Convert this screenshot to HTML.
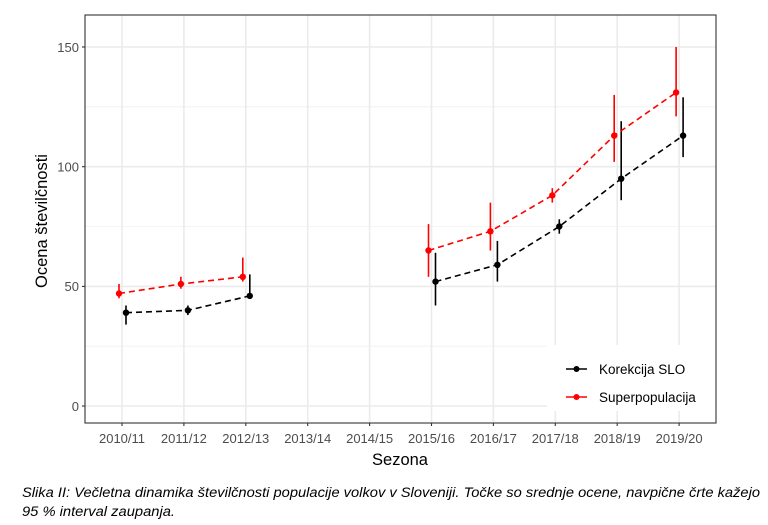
<!DOCTYPE html>
<html><head><meta charset="utf-8"><style>body{margin:0;background:#fff}svg{display:block}</style></head><body>
<svg width="768" height="525" viewBox="0 0 768 525" xmlns="http://www.w3.org/2000/svg" font-family="Liberation Sans, sans-serif">
<rect width="768" height="525" fill="#fff"/>
<g stroke="#f0f0f0" stroke-width="0.8">
<line x1="85" x2="716" y1="106.8" y2="106.8"/><line x1="85" x2="716" y1="226.5" y2="226.5"/><line x1="85" x2="716" y1="346.2" y2="346.2"/>
</g>
<g stroke="#ebebeb" stroke-width="1.6">
<line x1="85" x2="716" y1="47" y2="47"/><line x1="85" x2="716" y1="166.7" y2="166.7"/><line x1="85" x2="716" y1="286.4" y2="286.4"/><line x1="85" x2="716" y1="406" y2="406"/>
<line x1="122" x2="122" y1="15" y2="423"/><line x1="183.9" x2="183.9" y1="15" y2="423"/><line x1="245.8" x2="245.8" y1="15" y2="423"/><line x1="307.7" x2="307.7" y1="15" y2="423"/><line x1="369.6" x2="369.6" y1="15" y2="423"/><line x1="431.5" x2="431.5" y1="15" y2="423"/><line x1="493.4" x2="493.4" y1="15" y2="423"/><line x1="555.3" x2="555.3" y1="15" y2="423"/><line x1="617.2" x2="617.2" y1="15" y2="423"/><line x1="679.1" x2="679.1" y1="15" y2="423"/>
</g>
<!-- black series -->
<g stroke="#000" stroke-width="1.6" fill="none">
<polyline stroke-dasharray="6,4" points="126,312.7 187.9,310.3 249.8,295.9"/>
<polyline stroke-dasharray="6,4" points="435.5,281.6 497.4,264.8 559.3,226.5 621.2,178.7 683.1,135.6"/>
<line x1="126" x2="126" y1="324.6" y2="305.5"/>
<line x1="187.9" x2="187.9" y1="315.1" y2="305.5"/>
<line x1="249.8" x2="249.8" y1="295.9" y2="274.4"/>
<line x1="435.5" x2="435.5" y1="305.5" y2="252.8"/>
<line x1="497.4" x2="497.4" y1="281.6" y2="240.9"/>
<line x1="559.3" x2="559.3" y1="233.7" y2="219.3"/>
<line x1="621.2" x2="621.2" y1="200.2" y2="121.2"/>
<line x1="683.1" x2="683.1" y1="157.1" y2="97.3"/>
</g>
<g fill="#000">
<circle cx="126" cy="312.7" r="3.2"/><circle cx="187.9" cy="310.3" r="3.2"/><circle cx="249.8" cy="295.9" r="3.2"/><circle cx="435.5" cy="281.6" r="3.2"/><circle cx="497.4" cy="264.8" r="3.2"/><circle cx="559.3" cy="226.5" r="3.2"/><circle cx="621.2" cy="178.7" r="3.2"/><circle cx="683.1" cy="135.6" r="3.2"/>
</g>
<!-- red series -->
<g stroke="#ff0000" stroke-width="1.6" fill="none">
<polyline stroke-dasharray="6,4" points="119,293.5 180.9,284 242.8,276.8"/>
<polyline stroke-dasharray="6,4" points="428.5,250.5 490.4,231.3 552.3,195.4 614.2,135.6 676.1,92.5"/>
<line x1="119" x2="119" y1="298.3" y2="284"/>
<line x1="180.9" x2="180.9" y1="288.7" y2="276.8"/>
<line x1="242.8" x2="242.8" y1="281.6" y2="257.6"/>
<line x1="428.5" x2="428.5" y1="276.8" y2="224.1"/>
<line x1="490.4" x2="490.4" y1="250.5" y2="202.6"/>
<line x1="552.3" x2="552.3" y1="202.6" y2="188.2"/>
<line x1="614.2" x2="614.2" y1="161.9" y2="94.9"/>
<line x1="676.1" x2="676.1" y1="116.4" y2="47"/>
</g>
<g fill="#ff0000">
<circle cx="119" cy="293.5" r="3.2"/><circle cx="180.9" cy="284" r="3.2"/><circle cx="242.8" cy="276.8" r="3.2"/><circle cx="428.5" cy="250.5" r="3.2"/><circle cx="490.4" cy="231.3" r="3.2"/><circle cx="552.3" cy="195.4" r="3.2"/><circle cx="614.2" cy="135.6" r="3.2"/><circle cx="676.1" cy="92.5" r="3.2"/>
</g>
<!-- legend -->
<rect x="547" y="345" width="168" height="66" fill="#fff"/>
<line x1="566" x2="587" y1="369" y2="369" stroke="#000" stroke-width="1.6"/><circle cx="576.5" cy="369" r="3" fill="#000"/>
<line x1="566" x2="587" y1="397" y2="397" stroke="#ff0000" stroke-width="1.6"/><circle cx="576.5" cy="397" r="3" fill="#ff0000"/>
<text x="599" y="374" font-size="13.5" fill="#000">Korekcija SLO</text>
<text x="599" y="402" font-size="13.5" fill="#000">Superpopulacija</text>
<rect x="85" y="15" width="631" height="408" fill="none" stroke="#333" stroke-width="1.1"/>
<!-- y ticks -->
<g stroke="#333" stroke-width="1.1">
<line x1="82" x2="85" y1="47" y2="47"/><line x1="82" x2="85" y1="166.7" y2="166.7"/><line x1="82" x2="85" y1="286.4" y2="286.4"/><line x1="82" x2="85" y1="406" y2="406"/>
<line x1="122" x2="122" y1="423" y2="426"/><line x1="183.9" x2="183.9" y1="423" y2="426"/><line x1="245.8" x2="245.8" y1="423" y2="426"/><line x1="307.7" x2="307.7" y1="423" y2="426"/><line x1="369.6" x2="369.6" y1="423" y2="426"/><line x1="431.5" x2="431.5" y1="423" y2="426"/><line x1="493.4" x2="493.4" y1="423" y2="426"/><line x1="555.3" x2="555.3" y1="423" y2="426"/><line x1="617.2" x2="617.2" y1="423" y2="426"/><line x1="679.1" x2="679.1" y1="423" y2="426"/>
</g>
<g font-size="13" fill="#4d4d4d" text-anchor="end">
<text x="79" y="52">150</text><text x="79" y="171.5">100</text><text x="79" y="291">50</text><text x="79" y="411">0</text>
</g>
<g font-size="13" fill="#4d4d4d" text-anchor="middle">
<text x="122" y="443">2010/11</text><text x="183.9" y="443">2011/12</text><text x="245.8" y="443">2012/13</text><text x="307.7" y="443">2013/14</text><text x="369.6" y="443">2014/15</text><text x="431.5" y="443">2015/16</text><text x="493.4" y="443">2016/17</text><text x="555.3" y="443">2017/18</text><text x="617.2" y="443">2018/19</text><text x="679.1" y="443">2019/20</text>
</g>
<text x="400" y="465" font-size="16.5" text-anchor="middle" fill="#000">Sezona</text>
<text transform="translate(47,221) rotate(-90)" font-size="16.5" text-anchor="middle" fill="#000">Ocena številčnosti</text>
<g font-size="13.5" font-style="italic" fill="#000">
<text x="22" y="497" textLength="738" lengthAdjust="spacingAndGlyphs">Slika II: Večletna dinamika številčnosti populacije volkov v Sloveniji. Točke so srednje ocene, navpične črte kažejo</text>
<text x="22" y="516" textLength="153" lengthAdjust="spacingAndGlyphs">95 % interval zaupanja.</text>
</g>
</svg>
</body></html>
